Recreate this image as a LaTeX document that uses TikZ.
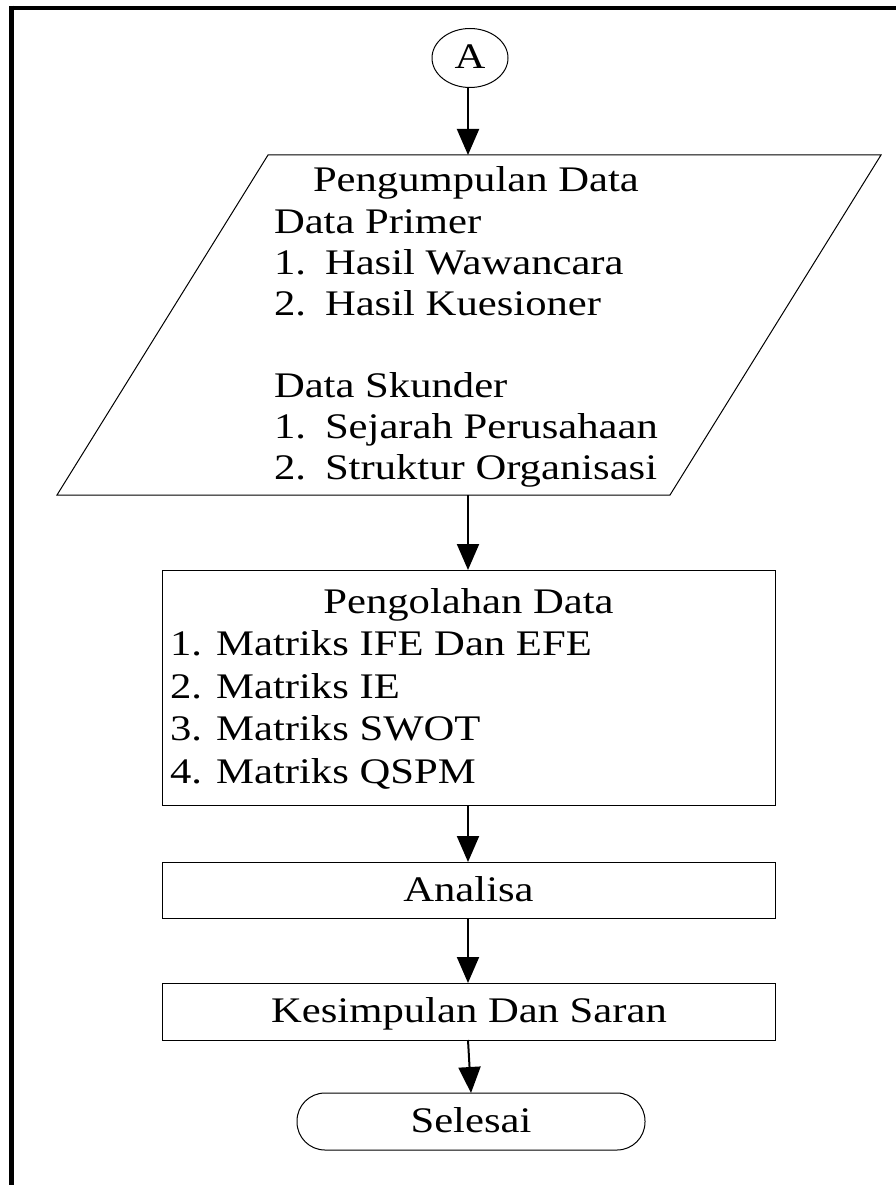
\documentclass[tikz,border=0pt]{standalone}
\usepackage{fontspec}
\setmainfont{Liberation Serif}[FakeStretch=1.185]
\usetikzlibrary{arrows.meta,shapes.geometric}
\begin{document}
\begin{tikzpicture}[x=1pt,y=-1pt,
  every node/.style={font=\fontsize{36}{41.4}\selectfont, inner sep=0pt, outer sep=0pt},
  shapeline/.style={draw=black, line width=1pt},
  flow/.style={line width=2pt, -{Triangle[length=26pt,width=22pt]}},
  boxnode/.style={shapeline, rectangle, minimum width=613pt, text height=22pt, text depth=0pt},
  linetxt/.style={anchor=base west},
  titletxt/.style={anchor=base}]
\useasboundingbox (0,0) rectangle (896,1185);
% frame
\draw[line width=4.5pt] (9,8) -- (896,8);
\draw[line width=5pt] (11.5,5.75) -- (11.5,1185);

% connector A
\node[ellipse, shapeline, minimum width=76pt, minimum height=59pt, text height=22pt, text depth=0pt] (A) at (470,58) {A};

% parallelogram (input/output)
\coordinate (pTop) at (468,155);
\coordinate (pBot) at (468,495);
\draw[shapeline] (268,155) -- (881,155) -- (670,495) -- (57,495) -- cycle;
\node[linetxt] (pg0) at (313,192) {Pengumpulan Data};
\node[linetxt] (pg1) at (274,233.1) {Data Primer};
\node[linetxt] (pg2n) at (274,274.2) {1.};
\node[linetxt] (pg2) at (325,274.2) {Hasil Wawancara};
\node[linetxt] (pg3n) at (274,315.3) {2.};
\node[linetxt] (pg3) at (325,315.3) {Hasil Kuesioner};
\node[linetxt] (pg4) at (274,397.5) {Data Skunder};
\node[linetxt] (pg5n) at (274,438.6) {1.};
\node[linetxt] (pg5) at (325,438.6) {Sejarah Perusahaan};
\node[linetxt] (pg6n) at (274,479.7) {2.};
\node[linetxt] (pg6) at (325,479.7) {Struktur Organisasi};

% processing box
\node[shapeline, rectangle, minimum width=613pt, minimum height=235pt] (proc) at (468.5,687.5) {};
\node[titletxt] (proc0) at (468.5,613) {Pengolahan Data};
\node[linetxt] (proc1) at (170,655.5) {1. Matriks IFE Dan EFE};
\node[linetxt] (proc2) at (170,698) {2. Matriks IE};
\node[linetxt] (proc3) at (170,740.5) {3. Matriks SWOT};
\node[linetxt] (proc4) at (170,783) {4. Matriks QSPM};

% analysis
\node[boxnode, minimum height=56pt] (ana) at (468.5,890) {Analisa};
% conclusion
\node[boxnode, minimum height=57pt] (kes) at (469,1011.5) {Kesimpulan Dan Saran};
% terminator
\node[shapeline, rectangle, rounded corners=28pt, minimum width=348pt, minimum height=57pt, text height=22pt, text depth=0pt] (sel) at (471,1121.5) {Selesai};

% connectors
\draw[flow] (A.south -| pTop) -- (pTop);
\draw[flow] (pBot) -- (proc.north -| pBot);
\draw[flow] (proc.south -| pBot) -- (ana.north -| pBot);
\draw[flow] (ana.south -| pBot) -- (kes.north -| pBot);
\draw[flow] (kes.south -| pBot) -- (sel.north);
\end{tikzpicture}
\end{document}
